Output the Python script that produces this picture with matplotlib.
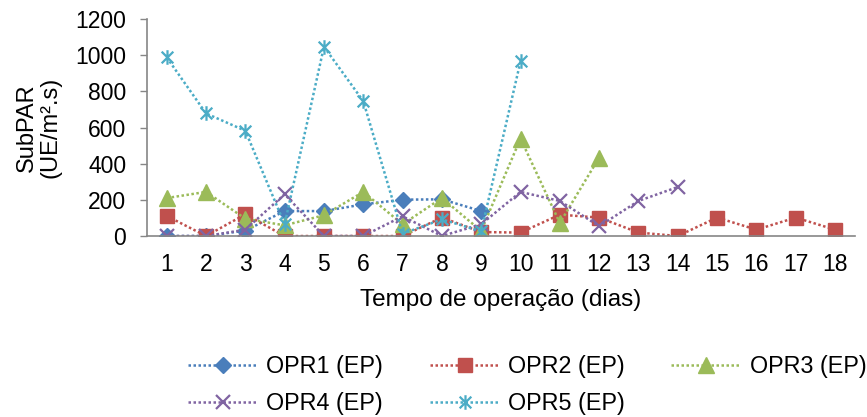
import matplotlib
matplotlib.use("Agg")
import matplotlib.pyplot as plt
from matplotlib.path import Path

plt.rcParams['font.family'] = ['Liberation Sans', 'DejaVu Sans']

days = list(range(1, 19))
tick_labels = [str(d) for d in days]

opr1 = [0, 0, 30, 138, 138, 175, 201, 203, 138]
opr2 = [111, 0, 120, 0, 0, 0, 0, 102, 22, 19, 118, 102, 19, 0, 102, 35, 102, 35]
opr3 = [210, 244, 96, 59, 115, 244, 65, 210, 28, 539, 72, 434]
opr4 = [0, 0, 35, 231, 0, 0, 109, 0, 65, 244, 194, 54, 194, 271]
opr5 = [988, 678, 582, 65, 1047, 746, 13, 92, 26, 966]

labels = ["OPR1 (EP)", "OPR2 (EP)", "OPR3 (EP)", "OPR4 (EP)", "OPR5 (EP)"]
colors = ["#4A7EBB", "#C0504D", "#9BBB59", "#8064A2", "#4BACC6"]

star = Path([(0, -1), (0, 1), (-0.8, -0.8), (0.8, 0.8), (-0.8, 0.8), (0.8, -0.8)],
            [Path.MOVETO, Path.LINETO, Path.MOVETO, Path.LINETO, Path.MOVETO, Path.LINETO])

styles = [
    dict(marker='D', ms=8),
    dict(marker='s', ms=10.5),
    dict(marker='^', ms=11),
    dict(marker='x', ms=10, mew=1.6),
    dict(marker=star, ms=10.5, mew=1.6),
]

fig = plt.figure(figsize=(8.67, 4.17), dpi=100)
ax = fig.add_axes([0.1696, 0.434, 0.8162, 0.5204])

series = [opr1, opr2, opr3, opr4, opr5]
handles = []
for vals, lab, col, st in zip(series, labels, colors, styles):
    x = days[:len(vals)]
    h, = ax.plot(x, vals, linestyle=(0, (1, 1)), lw=1.8, color=col,
                 mfc=col, mec=col, label=lab, **st)
    handles.append(h)

ax.set_xlim(0.5, 18.5)
ax.set_ylim(0, 1200)
ax.set_yticks(range(0, 1201, 200))
ax.set_xticks(days)
ax.set_xticklabels(tick_labels)
ax.tick_params(axis='x', length=0, labelsize=16.5, pad=12)
ax.tick_params(axis='y', length=5, width=1, color='#868686', labelsize=16.5, pad=10)
for s in ['top', 'right']:
    ax.spines[s].set_visible(False)
for s in ['left', 'bottom']:
    ax.spines[s].set_color('#868686')
    ax.spines[s].set_linewidth(1.2)
ax.set_ylabel("SubPAR\n(UE/m².s)", fontsize=17, linespacing=1.1, labelpad=10)
ax.set_xlabel("Tempo de operação (dias)", fontsize=17.5, labelpad=9.5)

order = [0, 3, 1, 4, 2]
fig.legend([handles[i] for i in order], [labels[i] for i in order],
           loc='upper left', bbox_to_anchor=(188 / 867, 1 - 355 / 417), ncol=3,
           frameon=False, fontsize=16.8, handlelength=3.0, handletextpad=0.35,
           columnspacing=2.0, labelspacing=0.6, borderaxespad=0, borderpad=0)

fig.savefig("out.png", dpi=100)
